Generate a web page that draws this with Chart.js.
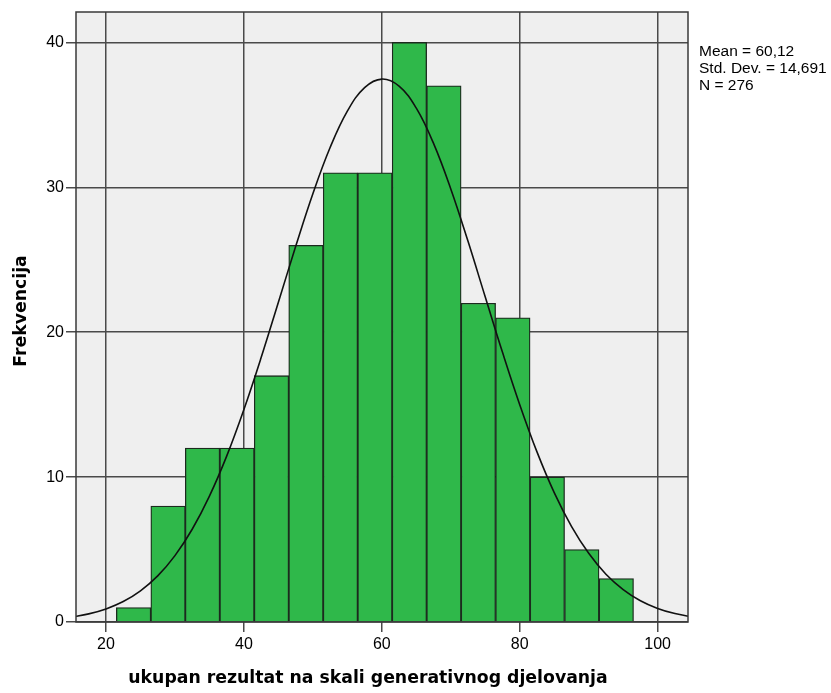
<!DOCTYPE html>
<html>
<head>
<meta charset="utf-8">
<script src="https://cdn.jsdelivr.net/npm/chart.js@4/dist/chart.umd.min.js"></script>
<style>
  html, body { margin: 0; padding: 0; background: #fff; }
  #wrap { width: 831px; height: 693px; }
</style>
</head>
<body>
<div id="wrap"><canvas id="mainChart" width="831" height="693"></canvas></div>
<script>
// histogram bins (centers, width 5) and counts
const binCenters = [24, 29, 34, 39, 44, 49, 54, 59, 64, 69, 74, 79, 84, 89, 94];
const binCounts  = [1, 8, 12, 12, 17, 26, 31, 31, 40, 37, 22, 21, 10, 5, 3];

// normal curve, points estimated from the drawn line
const curveX = [15, 17.5, 20, 22.5, 25, 27.5, 30, 32.5, 35, 37.5, 40, 42.5, 45, 47.5, 50, 52.5, 55, 57.5, 60,
                62.5, 65, 67.5, 70, 72.5, 75, 77.5, 80, 82.5, 85, 87.5, 90, 92.5, 95, 97.5, 100, 102.5, 105];
const curveY = [0.34, 0.56, 0.9, 1.41, 2.15, 3.18, 4.58, 6.4, 8.69, 11.45, 14.67, 18.25, 22.07, 25.91, 29.56, 32.75, 35.26, 36.88, 37.47,
                36.98, 35.46, 33.03, 29.89, 26.27, 22.43, 18.61, 15.0, 11.74, 8.93, 6.6, 4.74, 3.3, 2.24, 1.47, 0.94, 0.58, 0.35];

const xTicks = [20, 40, 60, 80, 100];
const yTicks = [0, 10, 20, 30, 40];
const statsLines = ['Mean = 60,12', 'Std. Dev. = 14,691', 'N = 276'];

const xTitle = 'ukupan rezultat na skali generativnog djelovanja';
const yTitle = 'Frekvencija';

// background, frame, stats and axis titles
const extras = {
    id: 'extras',
    beforeDraw(chart) {
        const a = chart.chartArea, ctx = chart.ctx;
        ctx.save();
        ctx.fillStyle = '#efefef';
        ctx.fillRect(a.left, a.top, a.right - a.left, a.bottom - a.top);
        ctx.restore();
    },
    afterDraw(chart) {
        const a = chart.chartArea, ctx = chart.ctx;
        ctx.save();
        ctx.strokeStyle = '#3a3a3a';
        ctx.lineWidth = 1.5;
        ctx.strokeRect(a.left, a.top, a.right - a.left, a.bottom - a.top);

        ctx.fillStyle = '#000';
        ctx.font = '15.5px "Liberation Sans", Arial, sans-serif';
        ctx.textBaseline = 'middle';
        ctx.textAlign = 'left';
        statsLines.forEach((t, i) => ctx.fillText(t, a.right + 11, 52 + i * 16.7));

        ctx.font = 'bold 17.3px "DejaVu Sans", Verdana, sans-serif';
        ctx.textAlign = 'center';
        ctx.fillText(xTitle, 368, 679);

        ctx.translate(22, 311);
        ctx.rotate(-Math.PI / 2);
        ctx.fillText(yTitle, 0, 0);
        ctx.restore();
    }
};

const gridStyle = { color: '#4a4a4a', lineWidth: 1.5, tickLength: 10, tickColor: '#4a4a4a', offset: false };

new Chart(document.getElementById('mainChart'), {
    type: 'bar',
    data: {
        datasets: [
            {
                type: 'line',
                data: curveX.map((x, i) => ({ x: x, y: curveY[i] })),
                borderColor: '#111',
                borderWidth: 1.6,
                pointRadius: 0,
                tension: 0.4,
                fill: false,
                order: 0
            },
            {
                type: 'bar',
                data: binCenters.map((x, i) => ({ x: x, y: binCounts[i] })),
                backgroundColor: '#2fb84a',
                borderColor: '#1c2a1e',
                borderWidth: 1.3,
                barPercentage: 1,
                categoryPercentage: 1,
                order: 1
            }
        ]
    },
    options: {
        responsive: false,
        animation: false,
        layout: { padding: { top: 12, right: 143, left: 0, bottom: 0 } },
        plugins: { legend: { display: false }, tooltip: { enabled: false } },
        scales: {
            x: {
                type: 'linear',
                min: 15.65,
                max: 104.4,
                offset: false,
                grid: gridStyle,
                border: { display: false },
                afterBuildTicks: s => { s.ticks = xTicks.map(v => ({ value: v })); },
                afterFit: s => { s.height = 71; },
                ticks: {
                    color: '#000',
                    padding: 3,
                    maxRotation: 0,
                    font: { family: '"Liberation Sans", Arial, sans-serif', size: 16 }
                }
            },
            y: {
                min: 0,
                max: 42.1,
                grid: gridStyle,
                border: { display: false },
                afterBuildTicks: s => { s.ticks = yTicks.map(v => ({ value: v })); },
                afterFit: s => { s.width = 76; },
                ticks: {
                    color: '#000',
                    padding: 2,
                    font: { family: '"Liberation Sans", Arial, sans-serif', size: 16 }
                }
            }
        }
    },
    plugins: [extras]
});
</script>
</body>
</html>
